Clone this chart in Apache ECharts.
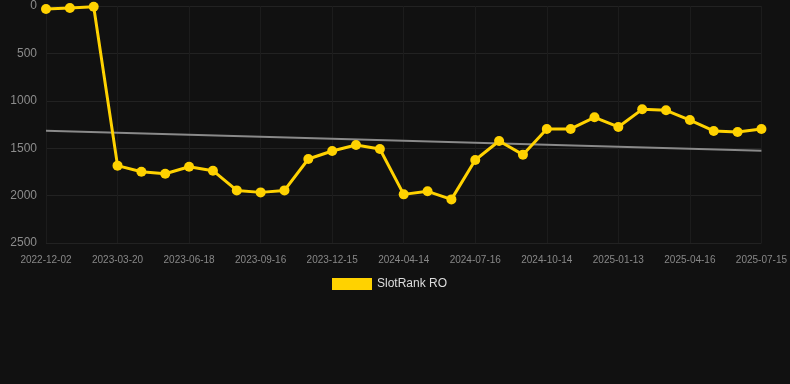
<!DOCTYPE html>
<html>
<head>
<meta charset="utf-8">
<script src="https://cdn.jsdelivr.net/npm/echarts@6/dist/echarts.min.js"></script>
<style>
html,body{margin:0;padding:0;background:#111111;}
#c{width:790px;height:384px;}
</style>
</head>
<body>
<div id="c"></div>
<script>
const categories = [
  '2022-12-02','2023-01-07','2023-02-12','2023-03-20','2023-04-19','2023-05-19',
  '2023-06-18','2023-07-18','2023-08-17','2023-09-16','2023-10-16','2023-11-15',
  '2023-12-15','2024-01-25','2024-03-04','2024-04-14','2024-05-15','2024-06-15',
  '2024-07-16','2024-08-15','2024-09-14','2024-10-14','2024-11-13','2024-12-13',
  '2025-01-13','2025-02-13','2025-03-16','2025-04-16','2025-05-16','2025-06-15',
  '2025-07-15'
];
const rankValues = [
  32, 21, 7, 1684, 1748, 1769, 1695, 1737, 1945, 1966, 1945,
  1614, 1530, 1466, 1508, 1987, 1955, 2040, 1624, 1424, 1568,
  1297, 1297, 1174, 1276, 1090, 1100, 1203, 1318, 1329, 1297
];
const trendEnds = [1315, 1526];
const yTicks = [0, 500, 1000, 1500, 2000, 2500];

const trendData = categories.map((c, i) =>
  i === 0 ? trendEnds[0] : (i === categories.length - 1 ? trendEnds[1] : null));

const chart = echarts.init(document.getElementById('c'));
chart.setOption({
  backgroundColor: '#111111',
  animation: false,
  grid: { left: 46, right: 28, top: 6, bottom: 141 },
  legend: {
    data: ['SlotRank RO'],
    top: 273,
    left: 327,
    itemWidth: 40,
    itemHeight: 12,
    itemGap: 10,
    icon: 'rect',
    textStyle: { color: '#dddddd', fontSize: 12, fontFamily: 'Liberation Sans, Arial, sans-serif' }
  },
  xAxis: {
    type: 'category',
    data: categories,
    boundaryGap: false,
    axisLine: { show: false },
    axisTick: { show: false },
    axisLabel: { interval: 2, color: '#888888', fontSize: 10, margin: 12,
      fontFamily: 'Liberation Sans, Arial, sans-serif' },
    splitLine: { show: true, interval: 2, lineStyle: { color: '#1c1c1c', width: 1 } }
  },
  yAxis: {
    type: 'value',
    inverse: true,
    min: yTicks[0],
    max: yTicks[yTicks.length - 1],
    interval: 500,
    axisLine: { show: false },
    axisTick: { show: false },
    axisLabel: { color: '#8c8c8c', fontSize: 12, margin: 9,
      formatter: v => String(v),
      fontFamily: 'Liberation Sans, Arial, sans-serif' },
    splitLine: { lineStyle: { color: '#222222', width: 1 } }
  },
  series: [
    {
      name: 'SlotRank RO',
      type: 'line',
      data: rankValues,
      symbol: 'circle',
      symbolSize: 10,
      itemStyle: { color: '#FFD200' },
      lineStyle: { color: '#FFD200', width: 3 },
      z: 3
    },
    {
      name: 'Trend',
      type: 'line',
      data: trendData,
      connectNulls: true,
      symbol: 'none',
      lineStyle: { color: '#8a8a8a', width: 2 },
      z: 2
    }
  ]
});
</script>
</body>
</html>
